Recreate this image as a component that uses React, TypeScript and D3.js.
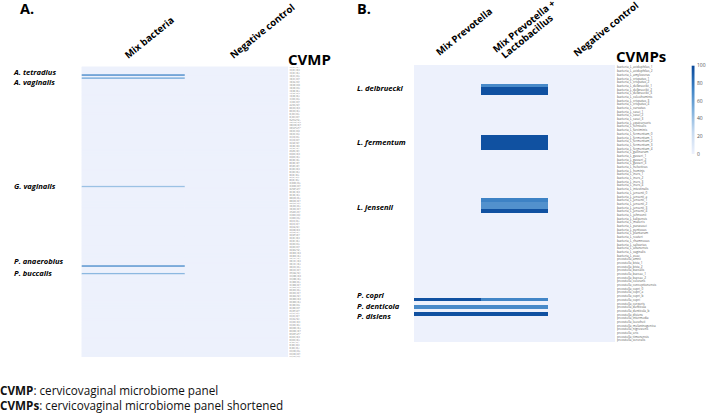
import React from "react";
import * as d3 from "d3";

// ---------- DATA ----------
const columnsA = ["Mix bacteria", "Negative control"];
const taxaA = [
  "Aer_chri", "Ana_tetr", "Ana_vagi", "Ato_vagi", "Act_neui", "Bac_frag", "Bif_brev", "Cam_urea",
  "Can_albi", "Chl_trac", "Cor_spp", "Dia_micr", "Egg_spp", "Ent_faec", "Esc_coli", "Fin_magn",
  "Gar_vagi", "Gem_spp", "Hae_ducr", "Kle_pneu", "Lac_cris", "Lac_gass", "Lac_iner", "Lac_jens",
  "Lep_amni", "Meg_typ1", "Mob_curt", "Myc_homi", "Nei_gono", "Pep_hare", "Pep_anae", "Por_asac",
  "Pre_bivi", "Pre_bucc", "Sne_amni", "Sta_aure", "Str_agal", "Ure_urea",
];
const probesA = ["1", "2", "3", "4", "5"];
const rowsA = taxaA.flatMap((t) => probesA.map((p) => `${t}_16S_${p}`));
// non-zero cells of panel A (Mix bacteria column)
const hitRowsA = [5, 7, 78, 130, 135];
const hitValuesA = [68, 50, 40, 66, 45];
const labelsA = ["A. tetradius", "A. vaginalis", "G. vaginalis", "P. anaerobius", "P. buccalis"];
const labelYA = [72, 82.7, 186.7, 261.7, 273];

const columnsB = ["Mix Prevotella", "Mix Prevotella +\nLactobacillus", "Negative control"];
const rowsB = [
  "bacteria_L_acidophilus_1", "bacteria_L_acidophilus_2", "bacteria_L_amylovorus", "bacteria_L_crispatus_1",
  "bacteria_L_crispatus_2", "bacteria_L_delbrueckii_1", "bacteria_L_delbrueckii_2", "bacteria_L_delbrueckii_3",
  "bacteria_L_coleohominis", "bacteria_L_crispatus_3", "bacteria_L_crispatus_4", "bacteria_L_curvatus",
  "bacteria_L_casei_1", "bacteria_L_casei_2", "bacteria_L_casei_3", "bacteria_L_equicursoris",
  "bacteria_L_fornicalis", "bacteria_L_farciminis", "bacteria_L_fermentum_0", "bacteria_L_fermentum_1",
  "bacteria_L_fermentum_2", "bacteria_L_fermentum_3", "bacteria_L_fermentum_4", "bacteria_L_gallinarum",
  "bacteria_L_gasseri_1", "bacteria_L_gasseri_2", "bacteria_L_gasseri_3", "bacteria_L_helveticus",
  "bacteria_L_hominis", "bacteria_L_iners_1", "bacteria_L_iners_2", "bacteria_L_iners_3",
  "bacteria_L_iners_4", "bacteria_L_intestinalis", "bacteria_L_jensenii_0", "bacteria_L_jensenii_a",
  "bacteria_L_jensenii_1", "bacteria_L_jensenii_2", "bacteria_L_jensenii_3", "bacteria_L_jensenii_4",
  "bacteria_L_johnsonii", "bacteria_L_kalixensis", "bacteria_L_mulieris", "bacteria_L_paracasei",
  "bacteria_L_pentosus", "bacteria_L_plantarum", "bacteria_L_reuteri", "bacteria_L_rhamnosus",
  "bacteria_L_salivarius", "bacteria_L_ultunensis", "bacteria_L_vaginalis", "bacteria_L_zeae",
  "prevotella_amnii", "prevotella_bivia_1", "prevotella_bivia_2", "prevotella_buccalis",
  "prevotella_buccae_1", "prevotella_buccae_2", "prevotella_colorans", "prevotella_conceptionensis",
  "prevotella_copri_0", "prevotella_copri_a", "prevotella_copri_b", "prevotella_copri",
  "prevotella_corporis", "prevotella_denticola", "prevotella_denticola_b", "prevotella_disiens",
  "prevotella_intermedia", "prevotella_loescheii", "prevotella_melaninogenica", "prevotella_nigrescens",
  "prevotella_oris", "prevotella_timonensis", "prevotella_veroralis",
];
// non-zero cells of panel B
const hitRowsB = [5, 6, 7, 19, 20, 21, 22, 36, 37, 38, 39, 63, 65, 67];
const mixPrevotellaValues = [0, 0, 0, 0, 0, 0, 0, 0, 0, 0, 0, 96, 70, 96];
const mixPrevLactoValues = [70, 96, 96, 96, 96, 96, 96, 74, 66, 66, 96, 72, 70, 96];
const negativeValuesB = [0, 0, 0, 0, 0, 0, 0, 0, 0, 0, 0, 0, 0, 0];
const labelsB = ["L. delbruecki", "L. fermentum", "L. jensenii", "P. copri", "P. denticola", "P. disiens"];
const labelYB = [88, 142.7, 207.3, 295.7, 306, 316.7];

const legendTicks = [0, 20, 40, 60, 80, 100];
const footnotes = [
  ["CVMP", ": cervicovaginal microbiome panel"],
  ["CVMPs", ": cervicovaginal microbiome panel shortened"],
];

// ---------- STYLE / SCALES ----------
const FONT = "'Open Sans', 'DejaVu Sans', sans-serif";
const color = d3
  .scaleLinear<string>()
  .domain([0, 25, 50, 75, 100])
  .range(["#edf1fc", "#c6daf0", "#7eb0dc", "#3a80c4", "#08489a"]);

export default function App() {
  // Panel A
  const xA = d3.scaleBand().domain(columnsA).range([81.7, 288]);
  const yA = d3.scaleBand().domain(rowsA).range([66.7, 357]);
  const valA = new Map<string, number>();
  hitRowsA.forEach((r, i) => valA.set(`${r}|0`, hitValuesA[i]));
  const cellsA: { r: number; c: number; v: number }[] = [];
  rowsA.forEach((_, r) => columnsA.forEach((__, c) => cellsA.push({ r, c, v: valA.get(`${r}|${c}`) ?? 0 })));

  // Panel B
  const xB = d3.scaleBand().domain(columnsB).range([414, 614.5]);
  const yB = d3.scaleBand().domain(rowsB).range([65.3, 342]);
  const seriesB = [mixPrevotellaValues, mixPrevLactoValues, negativeValuesB];
  const valB = new Map<string, number>();
  hitRowsB.forEach((r, i) => seriesB.forEach((s, c) => valB.set(`${r}|${c}`, s[i])));
  const cellsB: { r: number; c: number; v: number }[] = [];
  rowsB.forEach((_, r) => columnsB.forEach((__, c) => cellsB.push({ r, c, v: valB.get(`${r}|${c}`) ?? 0 })));

  // legend
  const yL = d3.scaleLinear().domain([0, 100]).range([154, 65.7]);
  const gradStops = d3.range(0, 101, 5);

  const headerOffsetsA = [[-5, 59], [-3, 59]];
  const headerOffsetsB = [[-8, 56], [-18, 53], [-4, 57]];

  return (
    <div style={{ position: "fixed", left: 0, top: 0 }}>
      <svg width={709} height={414} style={{ display: "block", background: "#fff" }} fontFamily={FONT}>
        <defs>
          <linearGradient id="lg" x1="0" y1="1" x2="0" y2="0">
            {gradStops.map((s) => (
              <stop key={s} offset={`${s}%`} stopColor={color(s)} />
            ))}
          </linearGradient>
        </defs>

        {/* ===== Panel A ===== */}
        <text x={20} y={13.5} fontSize={14.5} fontWeight={700}>A.</text>
        {columnsA.map((c, i) => (
          <text
            key={c}
            transform={`translate(${xA(c)! + xA.bandwidth() / 2 + headerOffsetsA[i][0]},${headerOffsetsA[i][1]}) rotate(-39)`}
            fontSize={9.6}
            fontWeight={700}
          >
            {c}
          </text>
        ))}
        <text x={288} y={65} fontSize={15} fontWeight={700}>CVMP</text>
        <rect x={81.7} y={66.7} width={288 - 81.7} height={357 - 66.7} fill={color(0)} />
        {cellsA.map((d) => (
          <rect
            key={`a${d.r}-${d.c}`}
            x={xA(columnsA[d.c])}
            y={yA(rowsA[d.r])}
            width={xA.bandwidth()}
            height={yA.bandwidth()}
            fill={color(d.v)}
          />
        ))}
        {rowsA.map((r) => (
          <text key={r} x={289.5} y={yA(r)! + yA.bandwidth() * 0.85} fontSize={1.45} fill="#777">
            {r}
          </text>
        ))}
        {labelsA.map((l, i) => (
          <text key={l} x={14} y={labelYA[i]} dy="0.35em" fontSize={7.6} fontWeight={700} fontStyle="italic">
            {l}
          </text>
        ))}

        {/* ===== Panel B ===== */}
        <text x={357} y={13.5} fontSize={14.5} fontWeight={700}>B.</text>
        {columnsB.map((c, i) => {
          const lines = c.split("\n");
          return (
            <text
              key={c}
              transform={`translate(${xB(c)! + xB.bandwidth() / 2 + headerOffsetsB[i][0]},${headerOffsetsB[i][1]}) rotate(-39)`}
              fontSize={9.6}
              fontWeight={700}
            >
              {lines.map((ln, j) => (
                <tspan key={j} x={j === 0 ? 0 : 3} dy={j === 0 ? 0 : 10}>
                  {ln}
                </tspan>
              ))}
            </text>
          );
        })}
        <text x={616} y={62} fontSize={15} fontWeight={700}>CVMPs</text>
        <rect x={414} y={65.3} width={614.5 - 414} height={342 - 65.3} fill={color(0)} />
        <g shapeRendering="crispEdges">
          {cellsB.map((d) => (
            <rect
              key={`b${d.r}-${d.c}`}
              x={xB(columnsB[d.c])}
              y={yB(rowsB[d.r])}
              width={xB.bandwidth()}
              height={yB.bandwidth()}
              fill={color(d.v)}
            />
          ))}
        </g>
        {rowsB.map((r) => (
          <text key={r} x={617} y={yB(r)! + yB.bandwidth() * 0.85} fontSize={3.1} fill="#555">
            {r}
          </text>
        ))}
        {labelsB.map((l, i) => (
          <text key={l} x={357} y={labelYB[i]} dy="0.35em" fontSize={7.6} fontWeight={700} fontStyle="italic">
            {l}
          </text>
        ))}

        {/* legend */}
        <rect x={691.7} y={yL(100)} width={2.8} height={yL(0) - yL(100)} fill="url(#lg)" />
        {legendTicks.map((t) => (
          <text key={t} x={697} y={yL(t)} dy="0.35em" fontSize={5} fill="#555">
            {t}
          </text>
        ))}

        {/* footnotes */}
        {footnotes.map((f, i) => (
          <text key={i} x={0} y={394.5 + i * 15} fontSize={11.7} fill="#111">
            <tspan fontWeight={700}>{f[0]}</tspan>
            <tspan>{f[1]}</tspan>
          </text>
        ))}
      </svg>
    </div>
  );
}
